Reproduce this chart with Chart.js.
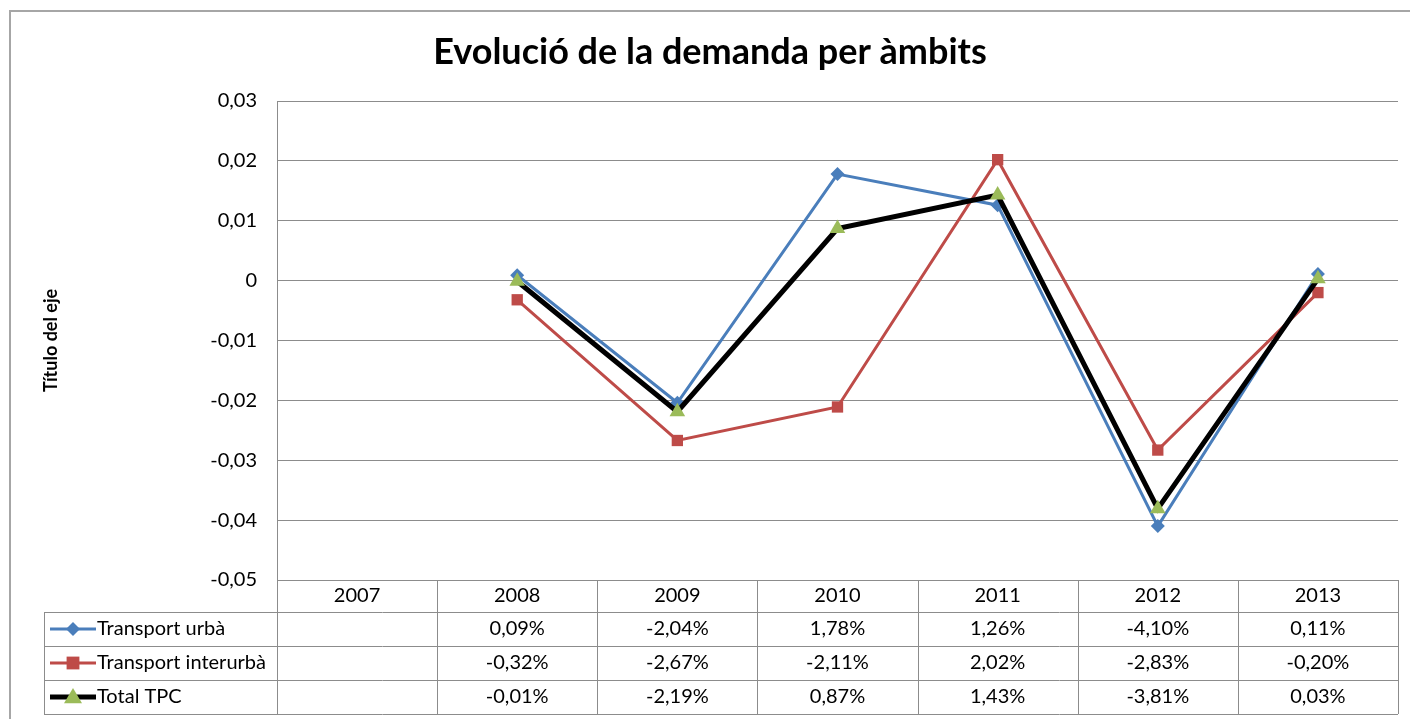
<!DOCTYPE html>
<html>
<head>
<meta charset="utf-8">
<script src="https://cdn.jsdelivr.net/npm/chart.js@4.4.0/dist/chart.umd.min.js"></script>
<style>
  html, body { margin: 0; padding: 0; background: #fff; }
  #wrap { width: 1410px; height: 719px; position: relative; }
</style>
</head>
<body>
<div id="wrap"><canvas id="demandChart" width="1410" height="719"></canvas></div>
<script>
// chart data
const years = ['2007', '2008', '2009', '2010', '2011', '2012', '2013'];
const transportUrba = [null, 0.0009, -0.0204, 0.0178, 0.0126, -0.0410, 0.0011];
const transportInterurba = [null, -0.0032, -0.0267, -0.0211, 0.0202, -0.0283, -0.0020];
const totalTPC = [null, -0.0001, -0.0219, 0.0087, 0.0143, -0.0381, 0.0003];
const yMin = -0.05;
const yMax = 0.03;
const yStep = 0.01;

const FONT = 'Lato, "Open Sans", sans-serif';
const GRID = '#8c8c8c';

function pct(v) {
    if (v === null) return '';
    return (v * 100).toFixed(2).replace('.', ',') + '%';
}

function drawMarker(ctx, type, x, y, r, color) {
    ctx.fillStyle = color;
    ctx.beginPath();
    if (type === 'rectRot') {
        ctx.moveTo(x, y - r); ctx.lineTo(x + r, y); ctx.lineTo(x, y + r); ctx.lineTo(x - r, y);
    } else if (type === 'rect') {
        ctx.rect(x - r * 0.8, y - r * 0.8, r * 1.6, r * 1.6);
    } else {
        ctx.moveTo(x, y - r); ctx.lineTo(x + r, y + r * 0.7); ctx.lineTo(x - r, y + r * 0.7);
    }
    ctx.closePath();
    ctx.fill();
}

// draws the outer frame and the Excel style data table under the plot
const dataTablePlugin = {
    id: 'dataTable',
    beforeDraw(chart) {
        const ctx = chart.ctx;
        ctx.save();
        ctx.strokeStyle = '#a6a6a6';
        ctx.lineWidth = 2;
        ctx.beginPath();
        ctx.moveTo(10, 720); ctx.lineTo(10, 11); ctx.lineTo(1412, 11);
        ctx.stroke();
        ctx.restore();
    },
    afterDraw(chart) {
        const ctx = chart.ctx;
        const x = chart.scales.x;
        const area = chart.chartArea;
        const band = (area.right - area.left) / years.length;
        const tableLeft = 44;
        const rowTops = [area.bottom, 612, 646, 680, 714];

        ctx.save();
        ctx.strokeStyle = GRID;
        ctx.lineWidth = 1;
        ctx.beginPath();
        // horizontal lines
        ctx.moveTo(area.left, rowTops[0] + 0.5); ctx.lineTo(area.right, rowTops[0] + 0.5);
        for (let r = 1; r < rowTops.length; r++) {
            ctx.moveTo(tableLeft, rowTops[r] + 0.5); ctx.lineTo(area.right, rowTops[r] + 0.5);
        }
        // vertical lines
        ctx.moveTo(tableLeft + 0.5, rowTops[1]); ctx.lineTo(tableLeft + 0.5, rowTops[4]);
        for (let i = 0; i <= years.length; i++) {
            const px = Math.round(area.left + i * band) + 0.5;
            ctx.moveTo(px, rowTops[0]); ctx.lineTo(px, rowTops[4]);
        }
        ctx.stroke();

        ctx.fillStyle = '#000';
        ctx.font = '20px ' + FONT;
        ctx.textAlign = 'center';
        ctx.textBaseline = 'middle';
        years.forEach((yr, i) => {
            ctx.fillText(yr, x.getPixelForValue(i), (rowTops[0] + rowTops[1]) / 2);
        });

        chart.data.datasets.forEach((ds, r) => {
            const cy = (rowTops[r + 1] + rowTops[r + 2]) / 2;
            // legend key
            ctx.strokeStyle = ds.borderColor;
            ctx.lineWidth = ds.borderWidth;
            ctx.beginPath();
            ctx.moveTo(50, cy); ctx.lineTo(96, cy);
            ctx.stroke();
            drawMarker(ctx, ds.pointStyle, 73, cy, ds.pointRadius, ds.pointBackgroundColor);
            ctx.fillStyle = '#000';
            ctx.textAlign = 'left';
            ctx.fillText(ds.label, 97, cy);
            ctx.textAlign = 'center';
            ds.data.forEach((v, i) => {
                ctx.fillText(pct(v), x.getPixelForValue(i), cy);
            });
        });
        ctx.restore();
    }
};

const ctx = document.getElementById('demandChart').getContext('2d');
new Chart(ctx, {
    type: 'line',
    data: {
        labels: years,
        datasets: [{
            label: 'Transport urbà',
            data: transportUrba,
            borderColor: '#4a7ebb',
            borderWidth: 3,
            pointStyle: 'rectRot',
            pointRadius: 7,
            pointBackgroundColor: '#4a7ebb',
            pointBorderWidth: 0,
            order: 2
        }, {
            label: 'Transport interurbà',
            data: transportInterurba,
            borderColor: '#be4b48',
            borderWidth: 3,
            pointStyle: 'rect',
            pointRadius: 8,
            pointBackgroundColor: '#be4b48',
            pointBorderWidth: 0,
            order: 1
        }, {
            label: 'Total TPC',
            data: totalTPC,
            borderColor: '#000000',
            borderWidth: 5,
            pointStyle: 'triangle',
            pointRadius: 9,
            pointBackgroundColor: '#9bbb59',
            pointBorderWidth: 0,
            order: 0
        }]
    },
    options: {
        responsive: false,
        animation: false,
        layout: { padding: { left: 22, right: 12, top: 0, bottom: 139 } },
        plugins: {
            legend: { display: false },
            tooltip: { enabled: false },
            title: {
                display: true,
                text: 'Evolució de la demanda per àmbits',
                color: '#000',
                font: { family: FONT, size: 36, weight: 'bold', lineHeight: 1.2 },
                padding: { top: 31, bottom: 26.8 }
            }
        },
        scales: {
            x: { display: false, offset: true },
            y: {
                min: yMin,
                max: yMax,
                afterFit(scale) { scale.width = 255; },
                ticks: {
                    stepSize: yStep,
                    padding: 20,
                    color: '#000',
                    font: { family: FONT, size: 20 },
                    callback: v => {
                        const r = Math.round(v * 100) / 100;
                        return r === 0 ? '0' : r.toFixed(2).replace('.', ',');
                    }
                },
                grid: { color: GRID, lineWidth: 1, drawTicks: false },
                border: { color: GRID, width: 1 },
                title: {
                    display: true,
                    text: 'Título del eje',
                    color: '#000',
                    font: { family: FONT, size: 18, weight: 'bold', lineHeight: 1.2 },
                    padding: { top: 18, bottom: 0 }
                }
            }
        }
    },
    plugins: [dataTablePlugin]
});
</script>
</body>
</html>
